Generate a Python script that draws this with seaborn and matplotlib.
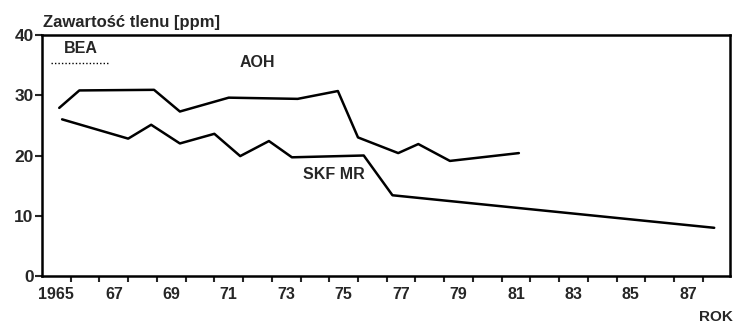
import matplotlib
matplotlib.use("Agg")
import matplotlib.pyplot as plt
import seaborn as sns

# ==========================================================
# DATA
# ==========================================================

aoh_year = [1965.1, 1965.8, 1968.4, 1969.3, 1971.0, 1973.4, 1974.8,
            1975.5, 1976.9, 1977.6, 1978.7, 1981.1]
aoh_val = [27.9, 30.8, 30.9, 27.3, 29.6, 29.4, 30.7,
           23.0, 20.4, 21.9, 19.1, 20.4]

skf_year = [1965.2, 1967.5, 1968.3, 1969.3, 1970.5, 1971.4, 1972.4,
            1973.2, 1975.7, 1976.7, 1987.9]
skf_val = [26.0, 22.8, 25.1, 22.0, 23.6, 19.9, 22.4,
           19.7, 20.0, 13.4, 8.0]

tick_years = list(range(1965, 1988, 2))
tick_labels = ["1965"] + [str(y % 100) for y in tick_years[1:]]
y_ticks = [0, 10, 20, 30, 40]

# ==========================================================
# STYLE
# ==========================================================

sns.set_style("ticks")
plt.rcParams["font.family"] = ["Liberation Sans", "DejaVu Sans"]
plt.rcParams["font.weight"] = "bold"

fig = plt.figure(figsize=(7.33, 3.24), dpi=100)
ax = fig.add_axes([42 / 733, 48 / 324, 688 / 733, 241 / 324])

# ==========================================================
# LINES
# ==========================================================

sns.lineplot(x=aoh_year, y=aoh_val, ax=ax, color="black",
             linewidth=1.8, sort=False, estimator=None)
sns.lineplot(x=skf_year, y=skf_val, ax=ax, color="black",
             linewidth=1.8, sort=False, estimator=None)

# ==========================================================
# AXES
# ==========================================================

ax.set_xlim(1964.5, 1988.45)
ax.set_ylim(0, 40)

ax.set_xticks(tick_years)
ax.set_xticklabels(tick_labels, fontsize=11.5, fontweight="bold")
ax.set_xticks([y + 0.5 for y in range(1965, 1988)], minor=True)
ax.tick_params(axis="x", which="major", length=0, pad=8)
ax.tick_params(axis="x", which="minor", length=4, width=1.5,
               direction="out")

ax.set_yticks(y_ticks)
ax.set_yticklabels([str(v) for v in y_ticks], fontsize=12.5,
                   fontweight="bold")
ax.tick_params(axis="y", length=5, width=1.5, direction="out", pad=1)

for side in ["left", "bottom", "top", "right"]:
    ax.spines[side].set_linewidth(1.8)
    ax.spines[side].set_color("black")

ax.set_xlabel("")
ax.set_ylabel("")

# ==========================================================
# LABELS
# ==========================================================

ax.text(1965.84, 37.7, "BEA", fontsize=11.5, fontweight="bold",
        ha="center", va="center")
ax.plot([1964.8, 1966.8], [35.4, 35.4], color="black",
        linestyle=(0, (1, 1.5)), linewidth=1.0)
ax.text(1972.0, 35.5, "AOH", fontsize=11.5, fontweight="bold",
        ha="center", va="center")
ax.text(1974.65, 16.8, "SKF MR", fontsize=11.5, fontweight="bold",
        ha="center", va="center")

fig.text(43 / 733, 1 - 27 / 324, "Zawartość tlenu [ppm]", fontsize=12,
         fontweight="bold", ha="left", va="baseline")
fig.text(1.0, 1 - 317 / 324, "ROK", fontsize=11, fontweight="bold",
         ha="right", va="center")

plt.savefig("out.png", dpi=100)
